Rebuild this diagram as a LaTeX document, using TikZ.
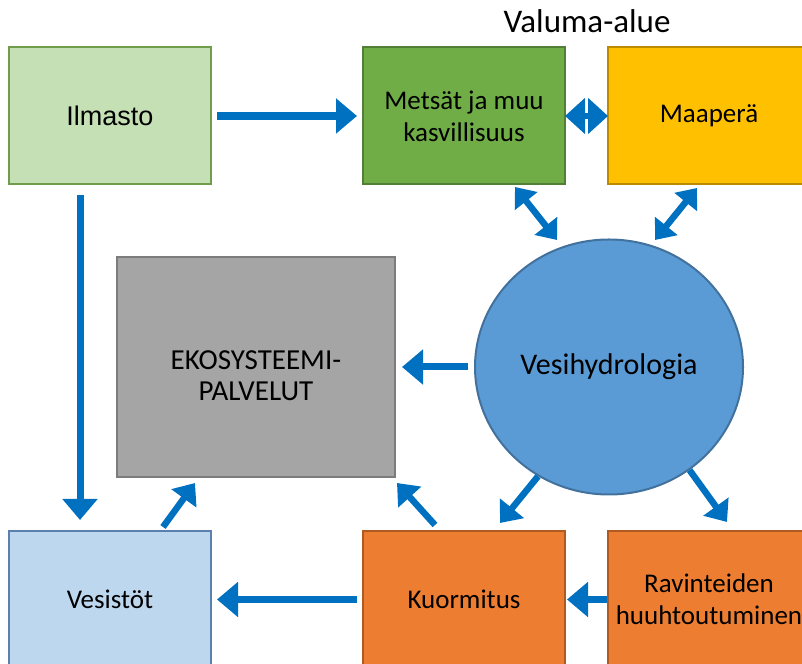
\documentclass[tikz,border=0pt]{standalone}
\usepackage{fontspec}
\setmainfont{Carlito}
\newfontfamily\arialfont{Liberation Sans}
\usetikzlibrary{arrows.meta,positioning,calc,shapes.geometric}
\definecolor{ilmfill}{HTML}{C5E0B4}
\definecolor{ilmdraw}{HTML}{6F9D4C}
\definecolor{metfill}{HTML}{70AD47}
\definecolor{metdraw}{HTML}{527F35}
\definecolor{maafill}{HTML}{FFC000}
\definecolor{maadraw}{HTML}{BC8C00}
\definecolor{ekofill}{HTML}{A5A5A5}
\definecolor{ekodraw}{HTML}{7C7C7C}
\definecolor{vesifill}{HTML}{5B9BD5}
\definecolor{vesidraw}{HTML}{41719C}
\definecolor{vstfill}{HTML}{BDD7EE}
\definecolor{vstdraw}{HTML}{5B80AD}
\definecolor{kuofill}{HTML}{ED7D31}
\definecolor{kuodraw}{HTML}{AE5A21}
\definecolor{arrblue}{HTML}{0070C0}

\begin{document}
\begin{tikzpicture}[
  x=1pt, y=1pt,
  font=\fontsize{27}{32}\selectfont,
  node distance=346.5pt and 152pt,
  box/.style={draw, line width=2pt, outer sep=0pt, inner sep=0pt, align=center, minimum width=202pt, minimum height=137pt},
  arr/.style={-{Triangle[length=21pt,width=34pt]}, line width=7pt, arrblue},
  sarr/.style={-{Triangle[length=19pt,width=30pt]}, line width=6.5pt, arrblue},
  darr/.style={{Triangle[length=18pt,width=28pt]}-{Triangle[length=18pt,width=28pt]}, line width=6.5pt, arrblue},
  harr/.style={{Triangle[length=20pt,width=35pt]}-{Triangle[length=20pt,width=35pt]}, line width=6pt, arrblue}
]
\clip (0,0) rectangle (802,663);

\node[anchor=base, font=\fontsize{33}{38}\selectfont] (valuma) at (587,630) {Valuma-alue};

\node[box, fill=ilmfill, draw=ilmdraw, font=\arialfont\fontsize{27}{32}\selectfont] (ilmasto) at (110,547) {Ilmasto};
\node[box, fill=metfill, draw=metdraw, right=of ilmasto] (metsat) {Metsät ja muu\\kasvillisuus};
\node[box, fill=maafill, draw=maadraw, right=43pt of metsat] (maapera) {Maaperä};

\node[box, fill=kuofill, draw=kuodraw, below=of metsat] (kuormitus) {Kuormitus};
\node[box, fill=vstfill, draw=vstdraw, left=of kuormitus] (vesistot) {Vesistöt};
\node[box, fill=kuofill, draw=kuodraw, right=43pt of kuormitus] (ravinteet) {Ravinteiden\\huuhtoutuminen};

\node[box, fill=ekofill, draw=ekodraw, minimum width=278pt, minimum height=220pt, font=\fontsize{29}{31}\selectfont] (eko) at (256,296) {\raisebox{-18pt}[0pt][0pt]{\begin{tabular}{@{}c@{}}EKOSYSTEEMI-\\PALVELUT\end{tabular}}};
\node[ellipse, draw=vesidraw, fill=vesifill, line width=2pt, inner sep=0pt, minimum width=268pt, minimum height=255pt, font=\fontsize{30}{34}\selectfont] (vesi) at (609,296) {Vesihydrologia};

\draw[arr, line width=8pt, shorten <=6pt, shorten >=6pt] (ilmasto) -- (metsat);
\draw[harr] (metsat) -- (maapera);
\draw[arr, shorten <=11pt, shorten >=11pt] ([xshift=-30pt]ilmasto.south) -- ([xshift=-30pt]vesistot.north);
\draw[darr] ($(metsat.south)+(51,-2.5)$) -- ($(vesi.center)+(-52,127)$);
\draw[darr] ($(maapera.south)+(-12,-3.5)$) -- ($(vesi.center)+(46,127)$);
\draw[arr, shorten <=6pt, shorten >=7pt] (vesi.west) -- (eko.east);
\draw[sarr] (vesi.-123) -- ($(kuormitus.north)+(36,8)$);
\draw[sarr] (vesi.-52) -- ($(ravinteet.north)+(18,9)$);
\draw[sarr] ($(vesistot.north)+(53,4)$) -- ($(eko.south)+(-61,-6)$);
\draw[sarr] ($(kuormitus.north)+(-29,6)$) -- ($(eko.south east)+(2,-6)$);
\draw[arr, shorten <=6pt, shorten >=6pt] (kuormitus) -- (vesistot);
\draw[arr, shorten <=1pt, shorten >=2pt] (ravinteet) -- (kuormitus);
\end{tikzpicture}
\end{document}
